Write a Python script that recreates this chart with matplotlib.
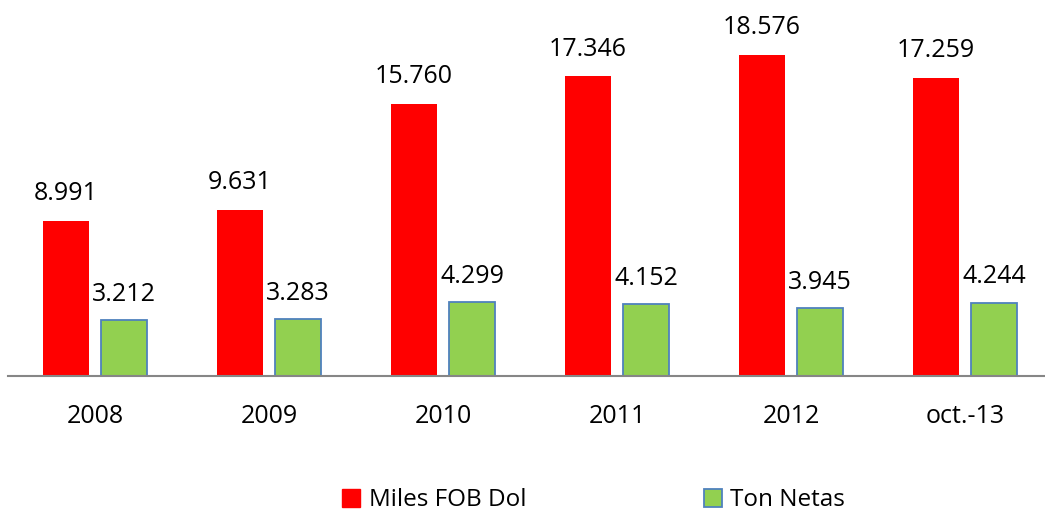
import matplotlib.pyplot as plt
import numpy as np
from matplotlib.patches import Patch

categories = ["2008", "2009", "2010", "2011", "2012", "oct.-13"]
miles_fob = [8991, 9631, 15760, 17346, 18576, 17259]
ton_netas = [3212, 3283, 4299, 4152, 3945, 4244]
miles_labels = ["8.991", "9.631", "15.760", "17.346", "18.576", "17.259"]
ton_labels = ["3.212", "3.283", "4.299", "4.152", "3.945", "4.244"]

plt.rcParams["font.family"] = ["Open Sans", "DejaVu Sans"]

W, H = 1045, 511
fig = plt.figure(figsize=(W / 100, H / 100), dpi=100)
ax = fig.add_axes([8 / W, 1 - 376 / H, 1044 / W, 376 / H])

x = np.arange(len(categories))
bw = 0.265
off = 0.167
red = "#ff0000"
green = "#92d050"
edge = "#4f81bd"

ax.bar(x - off, miles_fob, bw, color=red, linewidth=0)
ax.bar(x + off, ton_netas, bw, color=green, edgecolor=edge, linewidth=1.3)

for xi, v, lab in zip(x, miles_fob, miles_labels):
    ax.annotate(lab, (xi - off, v), xytext=(0, 10.5), textcoords="offset points",
                ha="center", va="bottom", fontsize=18)
for xi, v, lab in zip(x, ton_netas, ton_labels):
    ax.annotate(lab, (xi + off, v), xytext=(0, 9.5), textcoords="offset points",
                ha="center", va="bottom", fontsize=18)

ax.set_xlim(-0.5, len(categories) - 0.5)
ax.set_ylim(0, 21760)
for s in ["top", "right", "left"]:
    ax.spines[s].set_visible(False)
ax.spines["bottom"].set_color("#868686")
ax.spines["bottom"].set_linewidth(1.5)
ax.set_yticks([])
ax.set_xticks(x)
ax.set_xticklabels(categories, fontsize=18)
ax.tick_params(axis="x", length=0, pad=20.5)

handles = [Patch(facecolor=red, edgecolor=red),
           Patch(facecolor=green, edgecolor=edge, linewidth=1.3)]
fig.legend(handles, ["Miles FOB Dol", "Ton Netas"], loc="center",
           bbox_to_anchor=(0.568, 0.021), ncol=2, frameon=False, fontsize=17.5,
           handlelength=0.75, handleheight=0.75, handletextpad=0.35,
           columnspacing=7.3)

fig.savefig("out.png", dpi=100)
